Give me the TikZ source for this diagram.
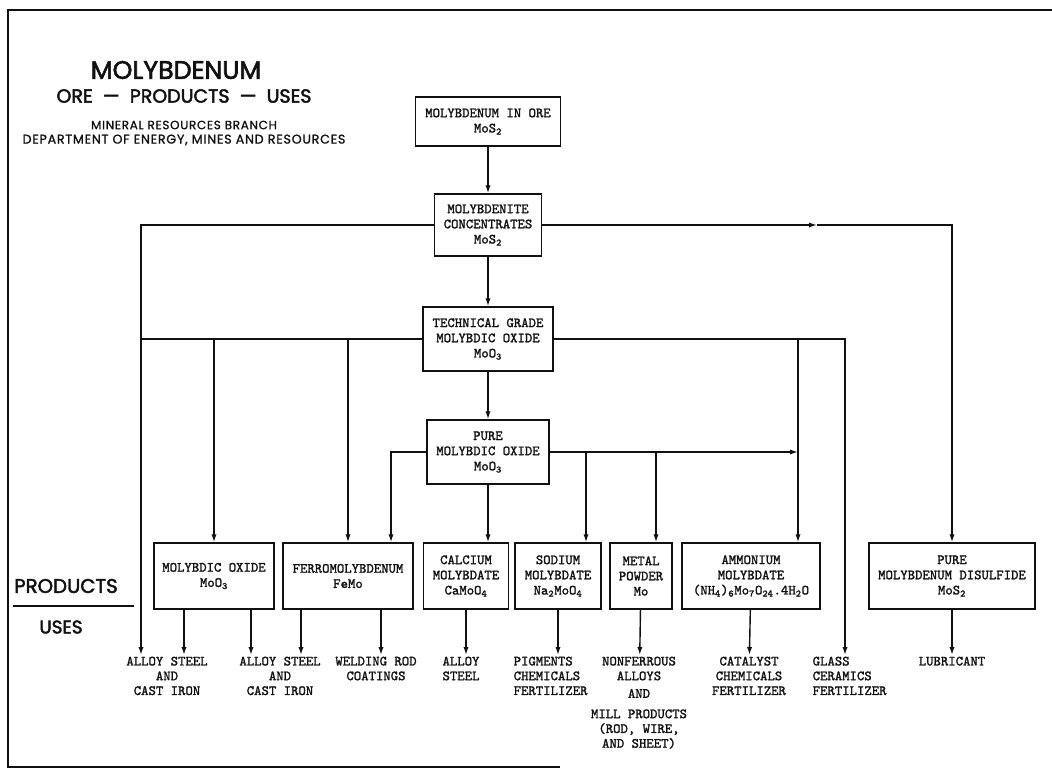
\documentclass[tikz,border=0pt]{standalone}
\usepackage{fontspec}
\setmonofont{Latin Modern Mono}[FakeBold=1.6]
\newfontfamily\mohead{Poppins}[FakeBold=2.4]
\newfontfamily\mosmall{Poppins}[FakeBold=1.2,LetterSpace=6]
\usetikzlibrary{arrows.meta}
\definecolor{MoInk}{HTML}{111111}
\tikzset{
  mostage/.style={
    draw=MoInk,
    text=MoInk,
    line width=1pt,
    minimum height=1.65cm,
    align=center,
    inner sep=2pt,
    font=\ttfamily\fontsize{10}{10.8}\selectfont
  },
  mouse/.style={
    anchor=north,
    align=center,
    inner sep=1pt,
    text=MoInk,
    font=\ttfamily\fontsize{10}{10.5}\selectfont
  },
  molink/.style={line width=1pt,draw=MoInk},
  moarrow/.style={-{Latex[length=2mm,width=1.3mm]},line width=1pt,draw=MoInk}
}
\begin{document}
\begin{tikzpicture}[x=0.025cm,y=-0.025cm]
  \useasboundingbox (0,0) rectangle (1052,771);
  % frame
  \draw[line width=1.4pt,draw=MoInk] (560,767) -- (8,767) -- (8,10) -- (1052,10);

  % heading
  \node[text=MoInk,font=\mohead\fontsize{18}{18}\selectfont] (title) at (176,70) {MOLYBDENUM};
  \node[text=MoInk,font=\mohead\fontsize{13.5}{13.5}\selectfont] (subtitle) at (184,96) {ORE~~—~~PRODUCTS~~—~~USES};
  \node[text=MoInk,font=\mosmall\fontsize{8.5}{8.5}\selectfont] (branch) at (184,125) {MINERAL RESOURCES BRANCH};
  \node[text=MoInk,font=\mosmall\fontsize{9}{9}\selectfont] (dept) at (184,140) {DEPARTMENT OF ENERGY, MINES AND RESOURCES};
  \node[text=MoInk,font=\mohead\fontsize{14}{14}\selectfont] (products) at (66,586) {PRODUCTS};
  \node[text=MoInk,font=\mohead\fontsize{13}{13}\selectfont] (uses) at (61,627) {USES};
  \draw[line width=1.4pt,draw=MoInk] (13,606) -- (134,606);

  % ore and processing column
  \node[mostage,minimum width=3.625cm,minimum height=1.225cm] (ore) at (488,121.5) {MOLYBDENUM IN ORE\\MoS\textsubscript{2}};
  \node[mostage,minimum width=2.675cm,minimum height=1.55cm] (conc) at (488,225) {MOLYBDENITE\\CONCENTRATES\\MoS\textsubscript{2}};
  \node[mostage,minimum width=3.25cm,minimum height=1.6cm] (tech) at (488,339) {TECHNICAL GRADE\\MOLYBDIC OXIDE\\MoO\textsubscript{3}};
  \node[mostage,minimum width=3.05cm,minimum height=1.6cm] (pure) at (488,452) {PURE\\MOLYBDIC OXIDE\\MoO\textsubscript{3}};

  % products
  \node[mostage,minimum width=3cm] (mox) at (214,576) {MOLYBDIC OXIDE\\MoO\textsubscript{3}};
  \node[mostage,minimum width=3.25cm] (ferro) at (348,576) {FERROMOLYBDENUM\\FeMo};
  \node[mostage,minimum width=2.125cm] (calc) at (466,576) {CALCIUM\\MOLYBDATE\\CaMoO\textsubscript{4}};
  \node[mostage,minimum width=2.15cm] (sodium) at (558,576) {SODIUM\\MOLYBDATE\\Na\textsubscript{2}MoO\textsubscript{4}};
  \node[mostage,minimum width=1.55cm] (metal) at (641,576) {METAL\\POWDER\\Mo};
  \node[mostage,minimum width=3.45cm] (ammon) at (751,576) {AMMONIUM\\MOLYBDATE\\(NH\textsubscript{4})\textsubscript{6}Mo\textsubscript{7}O\textsubscript{24}.4H\textsubscript{2}O};
  \node[mostage,minimum width=4.15cm] (mos) at (952,576) {PURE\\MOLYBDENUM DISULFIDE\\MoS\textsubscript{2}};

  % uses
  \node[mouse] (steelA) at (167,655) {ALLOY STEEL\\AND\\CAST IRON};
  \node[mouse] (steelB) at (280,655) {ALLOY STEEL\\AND\\CAST IRON};
  \node[mouse] (welding) at (376,655) {WELDING ROD\\COATINGS};
  \node[mouse] (steelC) at (461,655) {ALLOY\\STEEL};
  \node[mouse,anchor=north west,align=left] (pigments) at (512,655) {PIGMENTS\\CHEMICALS\\FERTILIZER};
  \node[mouse] (alloys) at (639,655) {NONFERROUS\\ALLOYS\\[2pt]AND\\[4pt]MILL PRODUCTS\\(ROD, WIRE,\\AND SHEET)};
  \node[mouse] (catalyst) at (749,655) {CATALYST\\CHEMICALS\\FERTILIZER};
  \node[mouse,anchor=north west,align=left] (glass) at (811,655) {GLASS\\CERAMICS\\FERTILIZER};
  \node[mouse] (lubricant) at (952,655) {LUBRICANT};

  % columns of the branch lines
  \coordinate (lcol) at (141,0);
  \coordinate (fecol) at (391,0);
  \coordinate (nacol) at (586,0);
  \coordinate (mpcol) at (656,0);
  \coordinate (amcol) at (798,0);
  \coordinate (mid) at (817,0);
  \coordinate (glcol) at (845,0);
  \coordinate (dropA) at (184,0);
  \coordinate (dropB) at (251,0);
  \coordinate (dropC) at (301,0);
  \coordinate (dropD) at (381,0);

  % main column
  \draw[moarrow] (ore) -- (conc);
  \draw[moarrow] (conc) -- (tech);
  \draw[moarrow] (tech) -- (pure);
  \draw[moarrow] (pure.south) -- (pure.south |- calc.north);

  % concentrates
  \draw[moarrow] (conc.west) -| (lcol |- steelA.north);
  \draw[moarrow] (conc.east) -- (conc.east -| mid);
  \draw[moarrow] (conc.east -| mid) -| (mos.north);

  % technical grade oxide
  \draw[molink] (tech.west) -- (tech.west -| lcol);
  \draw[moarrow] (tech.west -| mox.north) -- (mox.north);
  \draw[moarrow] (tech.west -| ferro.north) -- (ferro.north);
  \draw[moarrow] (tech.east) -| (glcol |- glass.north);
  \draw[moarrow] (tech.east -| amcol) -- (amcol |- ammon.north);

  % pure oxide
  \draw[moarrow] (pure.west) -| (fecol |- ferro.north);
  \draw[moarrow] (pure.east) -- (pure.east -| amcol);
  \draw[moarrow] (pure.east -| nacol) -- (nacol |- sodium.north);
  \draw[moarrow] (pure.east -| mpcol) -- (mpcol |- metal.north);

  % products to uses
  \draw[moarrow] (mox.south -| dropA) -- (dropA |- steelA.north);
  \draw[moarrow] (mox.south -| dropB) -- (dropB |- steelB.north);
  \draw[moarrow] (ferro.south -| dropC) -- (dropC |- steelB.north);
  \draw[moarrow] (ferro.south -| dropD) -- (dropD |- welding.north);
  \draw[moarrow] (calc.south) -- (calc.south |- steelC.north);
  \draw[moarrow] (sodium.south) -- (sodium.south |- pigments.north);
  \draw[moarrow] (metal) -- (alloys);
  \draw[moarrow] (ammon) -- (catalyst);
  \draw[moarrow] (mos) -- (lubricant);
\end{tikzpicture}
\end{document}
